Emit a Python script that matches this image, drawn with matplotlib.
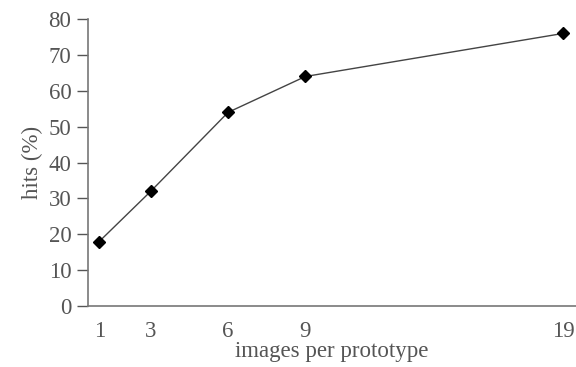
import matplotlib
matplotlib.use("Agg")
import matplotlib.pyplot as plt

# ── Data ──────────────────────────────────────────────────────────────────────
images_per_prototype = [1, 3, 6, 9, 19]
hits_pct = [18, 32, 54, 64, 76]
x_ticks = [1, 3, 6, 9, 19]
y_ticks = [0, 10, 20, 30, 40, 50, 60, 70, 80]

GRAY = "#555555"
plt.rcParams["font.family"] = ["Liberation Serif", "DejaVu Serif"]

fig = plt.figure(figsize=(5.76, 3.67), dpi=100)
ax = fig.add_axes([0.153, 0.166, 0.847, 0.782])

ax.plot(images_per_prototype, hits_pct, "-", color="#444444", linewidth=1.0,
        marker="D", markersize=6, markerfacecolor="black", markeredgecolor="black")

ax.set_xlim(0.57, 19.5)
ax.set_ylim(0, 80)
ax.set_xticks(x_ticks)
ax.set_yticks(y_ticks)
ax.tick_params(axis="x", length=0, pad=11, labelsize=16.5, colors=GRAY)
ax.tick_params(axis="y", length=8, width=1, direction="out", pad=4,
               labelsize=16.5, colors=GRAY)

for side in ("top", "right"):
    ax.spines[side].set_visible(False)
for side in ("left", "bottom"):
    ax.spines[side].set_color("#777777")
    ax.spines[side].set_linewidth(1.2)

ax.set_xlabel("images per prototype", fontsize=16.5, color=GRAY, labelpad=-1)
ax.set_ylabel("hits (%)", fontsize=16.5, color=GRAY, labelpad=4)

plt.savefig("out.png", dpi=100)
